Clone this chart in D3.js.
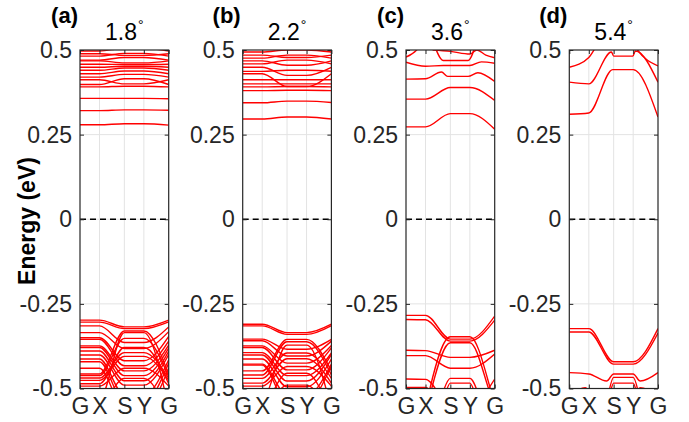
<!DOCTYPE html>
<html>
<head>
<meta charset="utf-8">
<script src="https://cdn.jsdelivr.net/npm/d3@7"></script>
<style>
  body { margin: 0; background: #fff; }
  svg { display: block; }
</style>
</head>
<body>
<svg id="chart" width="689" height="422"></svg>
<script>
// k-path nodes (fraction of path length) and labels
var kTicks = [0, 0.22, 0.5, 0.72, 1];
var kLabels = ['G', 'X', 'S', 'Y', 'G'];
var eTicks = [-0.5, -0.25, 0, 0.25, 0.5];
var eTickLabels = ['-0.5', '-0.25', '0', '0.25', '0.5'];

var panelTags = ['(a)', '(b)', '(c)', '(d)'];
var twistAngles = ['1.8', '2.2', '3.6', '5.4'];

// bands: energies (eV) at G, X, S, Y, G  -- or explicit [k, E] pairs
var bandsA = [
  [0.279, 0.279, 0.282, 0.282, 0.278],
  [0.321, 0.321, 0.323, 0.323, 0.322],
  [0.357, 0.357, 0.357, 0.357, 0.356],
  [0.391, 0.391, 0.393, 0.393, 0.391],
  [0.398, 0.398, 0.415, 0.415, 0.398],
  [0.412, 0.412, 0.400, 0.400, 0.412],
  [0.420, 0.420, 0.428, 0.428, 0.420],
  [0.430, 0.430, 0.438, 0.438, 0.430],
  [0.440, 0.440, 0.447, 0.447, 0.440],
  [0.449, 0.449, 0.452, 0.452, 0.449],
  [0.458, 0.458, 0.457, 0.457, 0.458],
  [0.468, 0.468, 0.462, 0.462, 0.468],
  [0.470, 0.470, 0.478, 0.478, 0.470],
  [0.482, 0.482, 0.490, 0.490, 0.482],
  [0.489, 0.489, 0.484, 0.484, 0.489],
  [0.497, 0.497, 0.505, 0.505, 0.497],
  [-0.298, -0.298, -0.318, -0.318, -0.298],
  [-0.304, -0.304, -0.323, -0.323, -0.303],
  [-0.315, -0.315, -0.364, -0.364, -0.318],
  [-0.335, -0.335, -0.382, -0.382, -0.332],
  [-0.350, -0.350, -0.418, -0.418, -0.346],
  [-0.355, -0.355, -0.433, -0.433, -0.360],
  [-0.374, -0.374, -0.448, -0.448, -0.372],
  [-0.379, -0.379, -0.462, -0.462, -0.381],
  [-0.389, -0.389, -0.477, -0.477, -0.390],
  [-0.401, -0.401, -0.490, -0.490, -0.400],
  [-0.413, -0.413, -0.520, -0.520, -0.415],
  [-0.421, -0.421, -0.540, -0.540, -0.425],
  [-0.440, -0.440, -0.560, -0.560, -0.440],
  [-0.457, -0.457, -0.330, -0.330, -0.458],
  [-0.462, -0.462, -0.352, -0.352, -0.465],
  [-0.469, -0.469, -0.394, -0.394, -0.470],
  [-0.476, -0.476, -0.405, -0.405, -0.476],
  [-0.486, -0.486, -0.379, -0.379, -0.486],
  [-0.493, -0.493, -0.440, -0.440, -0.493],
  [-0.560, -0.540, -0.335, -0.335, -0.560],
  [-0.580, -0.560, -0.470, -0.470, -0.580]
];

var bandsB = [
  [0.296, 0.296, 0.302, 0.302, 0.296],
  [0.344, 0.344, 0.349, 0.349, 0.345],
  [0.380, 0.380, 0.381, 0.381, 0.380],
  [0.391, 0.391, 0.392, 0.392, 0.391],
  [0.400, 0.400, 0.400, 0.400, 0.400],
  [0.412, 0.412, 0.412, 0.412, 0.412],
  [0.430, 0.430, 0.392, 0.392, 0.430],
  [0.437, 0.437, 0.440, 0.440, 0.437],
  [0.449, 0.449, 0.425, 0.425, 0.449],
  [0.459, 0.459, 0.470, 0.470, 0.459],
  [0.468, 0.468, 0.455, 0.455, 0.468],
  [0.476, 0.476, 0.485, 0.485, 0.476],
  [0.485, 0.485, 0.478, 0.478, 0.485],
  [0.494, 0.494, 0.500, 0.500, 0.494],
  [-0.310, -0.310, -0.335, -0.335, -0.310],
  [-0.315, -0.315, -0.340, -0.340, -0.314],
  [-0.354, -0.354, -0.384, -0.384, -0.355],
  [-0.359, -0.359, -0.404, -0.404, -0.360],
  [-0.374, -0.374, -0.425, -0.425, -0.373],
  [-0.379, -0.379, -0.445, -0.445, -0.380],
  [-0.394, -0.394, -0.462, -0.462, -0.395],
  [-0.401, -0.401, -0.478, -0.478, -0.400],
  [-0.413, -0.413, -0.495, -0.495, -0.413],
  [-0.428, -0.428, -0.520, -0.520, -0.428],
  [-0.431, -0.431, -0.540, -0.540, -0.432],
  [-0.448, -0.448, -0.355, -0.355, -0.448],
  [-0.460, -0.460, -0.362, -0.362, -0.460],
  [-0.470, -0.470, -0.395, -0.395, -0.470],
  [-0.484, -0.484, -0.412, -0.412, -0.484],
  [-0.493, -0.493, -0.435, -0.435, -0.493],
  [-0.560, -0.540, -0.372, -0.372, -0.560],
  [-0.580, -0.560, -0.455, -0.455, -0.580],
  [-0.600, -0.580, -0.490, -0.490, -0.600]
];

var bandsC = [
  [0.273, 0.273, 0.312, 0.312, 0.266],
  [0.355, 0.355, 0.389, 0.389, 0.351],
  [[0, 0.414], [0.22, 0.415], [0.40, 0.435], [0.47, 0.422], [0.70, 0.422], [0.81, 0.433], [1, 0.407]],
  [[0, 0.464], [0.22, 0.452], [0.42, 0.454], [0.72, 0.454], [0.85, 0.465], [1, 0.461]],
  [[0.30, 0.53], [0.42, 0.469], [0.70, 0.469], [0.80, 0.53]],
  [[0, 0.479], [0.12, 0.50], [0.20, 0.53]],
  [[0.30, 0.50], [0.50, 0.496], [0.72, 0.488], [0.80, 0.50], [0.90, 0.485], [1, 0.477]],
  [-0.284, -0.284, -0.354, -0.354, -0.286],
  [-0.296, -0.297, -0.360, -0.360, -0.298],
  [-0.387, -0.388, -0.408, -0.408, -0.387],
  [-0.403, -0.403, -0.440, -0.440, -0.398],
  [[0, -0.62], [0.22, -0.56], [0.27, -0.50], [0.5, -0.347], [0.72, -0.347], [0.95, -0.50], [1, -0.55]],
  [[0, -0.62], [0.22, -0.58], [0.29, -0.50], [0.5, -0.365], [0.72, -0.365], [0.93, -0.50], [1, -0.56]],
  [-0.472, -0.473, -0.550, -0.550, -0.472],
  [[0, -0.60], [0.35, -0.55], [0.5, -0.470], [0.72, -0.470], [0.87, -0.55], [1, -0.60]],
  [[0, -0.65], [0.40, -0.55], [0.5, -0.484], [0.72, -0.484], [0.82, -0.55], [1, -0.65]],
  [-0.497, -0.497, -0.600, -0.600, -0.497]
];

var bandsD = [
  [[0, 0.310], [0.22, 0.314], [0.49, 0.442], [0.72, 0.442], [1, 0.302]],
  [[0, 0.405], [0.22, 0.400], [0.475, 0.494], [0.50, 0.482], [0.717, 0.482], [0.745, 0.497], [1, 0.405]],
  [[0, 0.449], [0.22, 0.478], [0.30, 0.51]],
  [[0.70, 0.53], [0.77, 0.50], [1, 0.453]],
  [-0.323, -0.323, -0.421, -0.421, -0.323],
  [-0.333, -0.333, -0.428, -0.428, -0.336],
  [[0, -0.453], [0.22, -0.457], [0.42, -0.478], [0.50, -0.457], [0.72, -0.457], [0.80, -0.478], [1, -0.453]],
  [[0, -0.60], [0.40, -0.55], [0.50, -0.467], [0.72, -0.467], [0.82, -0.55], [1, -0.60]],
  [[0, -0.65], [0.45, -0.52], [0.50, -0.484], [0.72, -0.484], [0.77, -0.52], [1, -0.65]],
  [[0, -0.52], [0.18, -0.498], [0.35, -0.56], [0.65, -0.56], [0.80, -0.498], [1, -0.52]]
];

var panelBands = [bandsA, bandsB, bandsC, bandsD];

var panelLeft = [80, 242.7, 406, 569.3];
var panelW = 88.7;
var plotTop = 50, plotBottom = 388.5;
var font = '"Liberation Sans", Arial, Helvetica, sans-serif';
var axisColor = '#262626';

var svg = d3.select('#chart');

var toPoints = function (b) {
  if (typeof b[0] === 'number') {
    return b.map(function (e, i) { return [kTicks[i], e]; });
  }
  return b;
};

panelBands.forEach(function (bands, p) {
  var left = panelLeft[p];
  var x = d3.scaleLinear().domain([0, 1]).range([left, left + panelW]);
  var y = d3.scaleLinear().domain([-0.5, 0.5]).range([plotBottom, plotTop]);

  var g = svg.append('g').attr('class', 'panel');

  svg.append('clipPath')
    .attr('id', 'clip' + p)
    .append('rect')
    .attr('x', left).attr('y', plotTop)
    .attr('width', panelW).attr('height', plotBottom - plotTop);

  // grid
  g.selectAll('line.vgrid')
    .data(kTicks.slice(1, -1))
    .enter().append('line')
    .attr('x1', function (d) { return x(d); })
    .attr('x2', function (d) { return x(d); })
    .attr('y1', plotTop).attr('y2', plotBottom)
    .style('stroke', '#e3e3e3').style('stroke-width', 1);

  g.selectAll('line.hgrid')
    .data(eTicks.slice(1, -1))
    .enter().append('line')
    .attr('x1', left).attr('x2', left + panelW)
    .attr('y1', function (d) { return y(d); })
    .attr('y2', function (d) { return y(d); })
    .style('stroke', '#e3e3e3').style('stroke-width', 1);

  // Fermi level
  g.append('line')
    .attr('x1', left).attr('x2', left + panelW)
    .attr('y1', y(0)).attr('y2', y(0))
    .style('stroke', '#000').style('stroke-width', 1.4)
    .style('stroke-dasharray', '6,4');

  // bands
  var line = d3.line()
    .x(function (d) { return x(d[0]); })
    .y(function (d) { return y(d[1]); })
    .curve(d3.curveMonotoneX);

  g.append('g')
    .attr('clip-path', 'url(#clip' + p + ')')
    .selectAll('path')
    .data(bands.map(toPoints))
    .enter().append('path')
    .attr('d', line)
    .style('fill', 'none')
    .style('stroke', '#ff0000')
    .style('stroke-width', 1.4);

  // axes (inward ticks, box)
  var yAxis = d3.axisLeft(y).tickValues(eTicks).tickSize(-4).tickPadding(8)
    .tickFormat(function (d, i) { return eTickLabels[i]; });
  var yAxisR = d3.axisRight(y).tickValues(eTicks).tickSize(-4).tickFormat('');
  var xAxis = d3.axisBottom(x).tickValues(kTicks).tickSize(-4).tickPadding(9)
    .tickFormat(function (d, i) { return kLabels[i]; });
  var xAxisT = d3.axisTop(x).tickValues(kTicks).tickSize(-4).tickFormat('');

  var axes = [
    g.append('g').attr('transform', 'translate(' + left + ',0)').call(yAxis),
    g.append('g').attr('transform', 'translate(' + (left + panelW) + ',0)').call(yAxisR),
    g.append('g').attr('transform', 'translate(0,' + plotBottom + ')').call(xAxis),
    g.append('g').attr('transform', 'translate(0,' + plotTop + ')').call(xAxisT)
  ];
  axes.forEach(function (a) {
    a.select('.domain').remove();
    a.selectAll('line').style('stroke', axisColor).style('stroke-width', 1);
    a.selectAll('text')
      .style('font-family', font)
      .style('font-size', '23px')
      .style('fill', axisColor);
  });

  g.append('rect')
    .attr('x', left).attr('y', plotTop)
    .attr('width', panelW).attr('height', plotBottom - plotTop)
    .style('fill', 'none')
    .style('stroke', axisColor)
    .style('stroke-width', 1.2);

  // titles
  var title = g.append('text')
    .attr('x', left + panelW / 2)
    .attr('y', 40)
    .attr('text-anchor', 'middle')
    .style('font-family', font)
    .style('font-size', '23px')
    .style('fill', '#000');
  title.append('tspan').text(twistAngles[p]);
  title.append('tspan').attr('dy', -10).attr('dx', 1).style('font-size', '14px').text('\u00b0');

  g.append('text')
    .attr('x', left - 2)
    .attr('y', 23)
    .attr('text-anchor', 'end')
    .style('font-family', font)
    .style('font-size', '22px')
    .style('font-weight', 'bold')
    .style('fill', '#000')
    .text(panelTags[p]);
});

svg.append('text')
  .attr('transform', 'translate(35,221) rotate(-90)')
  .attr('text-anchor', 'middle')
  .style('font-family', font)
  .style('font-size', '23px')
  .style('font-weight', 'bold')
  .style('fill', '#000')
  .text('Energy (eV)');
</script>
</body>
</html>
